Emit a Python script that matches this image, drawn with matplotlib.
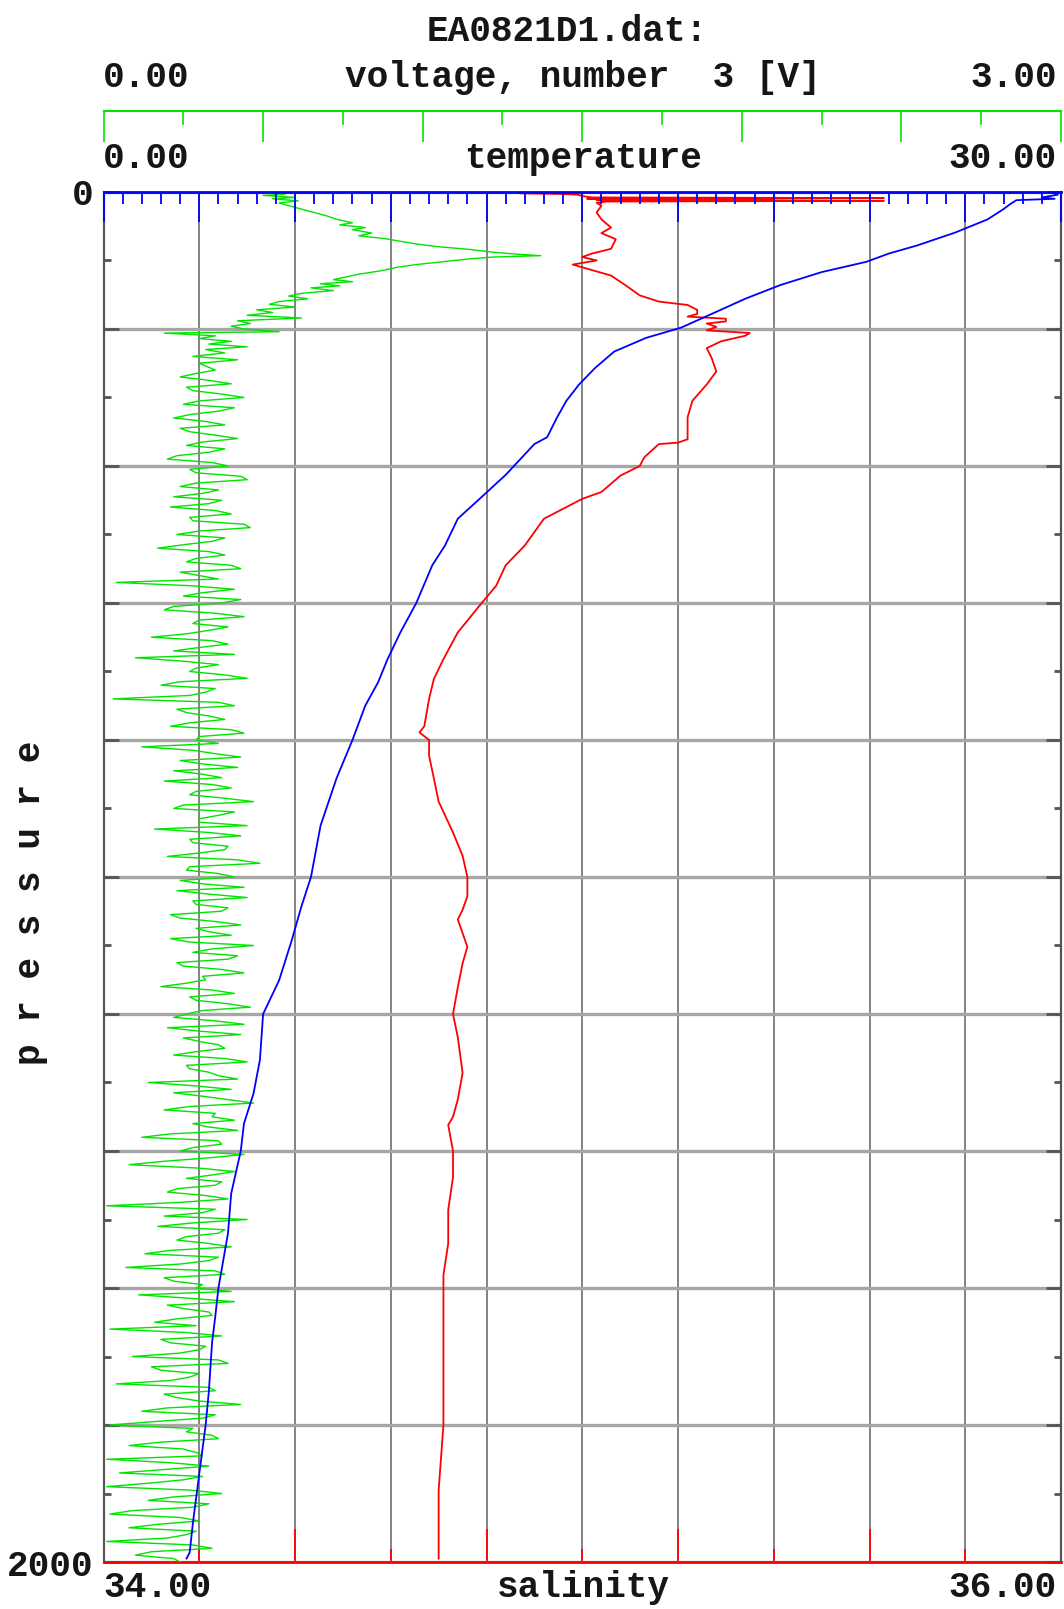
import matplotlib
matplotlib.use('Agg')
import matplotlib.pyplot as plt
from matplotlib.ticker import MultipleLocator, FixedLocator

plt.rcParams['font.family'] = ['Liberation Mono', 'DejaVu Sans Mono']
plt.rcParams['font.weight'] = 'bold'

# salinity profile (red)
sal_p = [2, 3, 4, 6, 8, 9, 10, 11, 12, 13, 14, 16, 20, 30, 40, 52, 60, 69, 83, 90, 95,
         100, 106, 110, 122, 136, 151, 160, 165, 172, 178, 182, 185, 189, 192, 197, 202,
         206, 210, 218, 228, 242, 262, 281, 305, 329, 361, 366, 368, 387, 400, 414, 438,
         448, 477, 516, 545, 575, 600, 643, 682, 711, 740, 780, 789, 800, 823, 856, 890,
         935, 969, 1000, 1028, 1048, 1062, 1102, 1126, 1161, 1200, 1234, 1286, 1325, 1350,
         1362, 1400, 1438, 1486, 1535, 1581, 1642, 1703, 1720, 1800, 1895, 1995]
sal = [34.87, 34.96, 34.99, 35.00, 35.02, 35.63, 35.01, 35.40, 35.03, 35.63, 35.05,
       35.03, 35.04, 35.03, 35.04, 35.06, 35.04, 35.07, 35.06, 35.02, 35.00, 35.03, 34.98,
       35.00, 35.06, 35.09, 35.12, 35.16, 35.22, 35.24, 35.24, 35.22, 35.30, 35.30, 35.26,
       35.28, 35.26, 35.35, 35.34, 35.29, 35.26, 35.27, 35.28, 35.26, 35.23, 35.22, 35.22,
       35.20, 35.16, 35.13, 35.12, 35.08, 35.04, 35.00, 34.92, 34.88, 34.84, 34.82, 34.79,
       34.74, 34.71, 34.69, 34.68, 34.67, 34.66, 34.68, 34.68, 34.69, 34.70, 34.73, 34.75,
       34.76, 34.76, 34.75, 34.74, 34.76, 34.75, 34.74, 34.73, 34.74, 34.75, 34.74, 34.73,
       34.72, 34.73, 34.73, 34.72, 34.72, 34.71, 34.71, 34.71, 34.71, 34.71, 34.70, 34.70]

# temperature profile (blue)
temp_p = [0, 4, 8, 10, 12, 18, 25, 40, 59, 78, 90, 102, 117, 136, 156, 175, 198, 213, 233,
          257, 281, 305, 330, 358, 368, 398, 413, 443, 477, 516, 545, 600, 643, 682, 716,
          750, 800, 856, 925, 1000, 1043, 1092, 1151, 1200, 1267, 1316, 1360, 1400, 1462,
          1520, 1600, 1642, 1680, 1751, 1800, 1871, 1943, 1986, 1995]
temp = [29.7, 29.9, 29.4, 29.8, 28.6, 28.4, 28.2, 27.7, 26.7, 25.5, 24.6, 23.9, 22.5, 21.2,
        20.1, 19.2, 18.1, 17.0, 16.0, 15.4, 14.9, 14.5, 14.2, 13.9, 13.5, 12.9, 12.6, 11.9,
        11.1, 10.7, 10.3, 9.8, 9.3, 8.9, 8.6, 8.2, 7.8, 7.3, 6.8, 6.5, 6.2, 5.9, 5.5, 5.0,
        4.9, 4.7, 4.4, 4.3, 4.0, 3.9, 3.6, 3.5, 3.4, 3.3, 3.2, 3.0, 2.8, 2.7, 2.6]

# voltage number 3 (green), upper part
volt_p_top = [0, 3, 5, 8, 10, 13, 16, 20, 25, 30, 35, 40, 45, 48, 52, 55, 60, 64, 68, 72,
              76, 80, 84, 88, 91, 93, 95, 98, 102, 106, 110, 115, 120, 125, 128, 131, 134,
              137, 140, 144, 148, 152, 156, 160, 164, 168, 172, 176, 180, 184, 188, 192,
              196, 200, 204, 206, 210, 214, 218, 222, 226, 230, 235, 240, 245, 250]
volt_top = [0.52, 0.57, 0.50, 0.60, 0.53, 0.61, 0.55, 0.58, 0.62, 0.66, 0.70, 0.73, 0.78,
            0.74, 0.82, 0.78, 0.84, 0.80, 0.88, 0.93, 0.98, 1.05, 1.15, 1.22, 1.30, 1.37,
            1.22, 1.14, 1.06, 0.98, 0.92, 0.87, 0.80, 0.75, 0.72, 0.78, 0.68, 0.74, 0.65,
            0.72, 0.62, 0.58, 0.64, 0.55, 0.52, 0.60, 0.48, 0.53, 0.45, 0.62, 0.42, 0.46,
            0.40, 0.44, 0.55, 0.19, 0.35, 0.30, 0.40, 0.33, 0.45, 0.32, 0.38, 0.28, 0.42,
            0.30]

# deeper part, samples at 260, 270, ... 2000
volt_p_deep_a = list(range(260, 2001, 10))
volt_deep_a = [
    0.35, 0.24, 0.40, 0.28, 0.44, 0.25, 0.36, 0.22, 0.38, 0.27,
    0.42, 0.26, 0.33, 0.20, 0.39, 0.29, 0.45, 0.24, 0.31, 0.37,
    0.21, 0.40, 0.28, 0.46, 0.23, 0.34, 0.17, 0.38, 0.26, 0.43,
    0.30, 0.04, 0.41, 0.25, 0.37, 0.19, 0.44, 0.28, 0.33, 0.15,
    0.39, 0.22, 0.10, 0.36, 0.27, 0.45, 0.18, 0.32, 0.03, 0.41,
    0.26, 0.38, 0.21, 0.44, 0.29, 0.12, 0.35, 0.24, 0.42, 0.31,
    0.19, 0.40, 0.27, 0.47, 0.22, 0.36, 0.30, 0.16, 0.43, 0.28,
    0.38, 0.20, 0.49, 0.26, 0.41, 0.31, 0.23, 0.45, 0.29, 0.37,
    0.24, 0.43, 0.33, 0.21, 0.47, 0.28, 0.39, 0.25, 0.44, 0.32,
    0.18, 0.41, 0.29, 0.46, 0.26, 0.35, 0.20, 0.43, 0.30, 0.38,
    0.22, 0.45, 0.27, 0.36, 0.14, 0.40, 0.31, 0.47, 0.19, 0.34,
    0.28, 0.42, 0.12, 0.37, 0.24, 0.33, 0.08, 0.41, 0.26, 0.35,
    0.20, 0.39, 0.01, 0.31, 0.45, 0.17, 0.36, 0.23, 0.40, 0.13,
    0.33, 0.07, 0.38, 0.22, 0.29, 0.11, 0.41, 0.25, 0.34, 0.16,
    0.02, 0.37, 0.21, 0.30, 0.09, 0.39, 0.18, 0.27, 0.04, 0.35,
    0.23, 0.43, 0.12, 0.31, 0.02, 0.26, 0.36, 0.08, 0.29, 0.01,
    0.33, 0.05, 0.25, 0.01, 0.37, 0.14, 0.28, 0.02, 0.30, 0.08,
    0.26, 0.01, 0.34, 0.10, 0.24]

# in-between samples at 265, 275, ... 1995
volt_p_deep_b = list(range(265, 2000, 10))
volt_deep_b = [
    0.29, 0.33, 0.26, 0.37, 0.30, 0.41, 0.27, 0.32, 0.24, 0.35,
    0.31, 0.38, 0.23, 0.34, 0.27, 0.43, 0.29, 0.36, 0.22, 0.33,
    0.35, 0.27, 0.44, 0.30, 0.38, 0.25, 0.33, 0.29, 0.40, 0.24,
    0.36, 0.28, 0.31, 0.43, 0.22, 0.35, 0.30, 0.39, 0.26, 0.34,
    0.30, 0.41, 0.25, 0.29, 0.38, 0.24, 0.35, 0.27, 0.36, 0.23,
    0.33, 0.27, 0.40, 0.30, 0.36, 0.28, 0.43, 0.31, 0.22, 0.37,
    0.34, 0.29, 0.38, 0.25, 0.41, 0.30, 0.45, 0.33, 0.27, 0.39,
    0.30, 0.42, 0.27, 0.36, 0.24, 0.44, 0.33, 0.28, 0.39, 0.21,
    0.35, 0.29, 0.40, 0.27, 0.34, 0.42, 0.23, 0.37, 0.31, 0.26,
    0.34, 0.27, 0.39, 0.31, 0.22, 0.44, 0.30, 0.25, 0.36, 0.29,
    0.38, 0.26, 0.33, 0.42, 0.29, 0.22, 0.39, 0.27, 0.35, 0.41,
    0.33, 0.21, 0.36, 0.28, 0.44, 0.19, 0.30, 0.34, 0.37, 0.23,
    0.32, 0.24, 0.35, 0.19, 0.28, 0.38, 0.26, 0.33, 0.21, 0.36,
    0.24, 0.35, 0.19, 0.31, 0.40, 0.27, 0.20, 0.33, 0.23, 0.29,
    0.26, 0.18, 0.32, 0.24, 0.36, 0.15, 0.30, 0.21, 0.33, 0.19,
    0.30, 0.20, 0.35, 0.16, 0.28, 0.34, 0.18, 0.25, 0.31, 0.21,
    0.19, 0.31, 0.14, 0.27, 0.22, 0.33, 0.09, 0.24, 0.17, 0.29,
    0.20, 0.28, 0.15, 0.22]

deep = sorted(list(zip(volt_p_deep_a, volt_deep_a)) + list(zip(volt_p_deep_b, volt_deep_b)))
volt_p = volt_p_top + [d[0] for d in deep]
volt = volt_top + [d[1] for d in deep]

TXT = '#161616'
GREEN = '#00e400'

fig = plt.figure(figsize=(10.64, 16.09), dpi=100)
ax = fig.add_axes([0.0973, 0.0292, 0.8999, 0.8515])
ax_v = ax.twiny()
ax_t = ax.twiny()

# salinity / pressure axes
ax.set_xlim(34, 36)
ax.set_ylim(2000, 0)
ax.xaxis.set_major_locator(FixedLocator([34.0, 34.4, 34.8, 35.2, 35.6, 36.0]))
ax.xaxis.set_minor_locator(FixedLocator([34.2, 34.6, 35.0, 35.4, 35.8]))
ax.tick_params(axis='x', which='major', direction='in', length=24, width=1.3,
               color='red', labelbottom=False, top=False)
ax.tick_params(axis='x', which='minor', direction='in', length=9.5, width=1.3,
               color='red', top=False)
p_ticks = [0, 200, 400, 600, 800, 1000, 1200, 1400, 1600, 1800, 2000]
ax.yaxis.set_major_locator(FixedLocator(p_ticks))
ax.yaxis.set_minor_locator(FixedLocator([100, 300, 500, 700, 900, 1100, 1300, 1500, 1700, 1900]))
ax.set_yticklabels(['0'] + [''] * 9 + ['2000'])
ax.tick_params(axis='y', which='major', direction='in', length=11, width=2,
               color='#555555', left=True, right=True, pad=7,
               labelsize=26, labelcolor=TXT)
ax.tick_params(axis='y', which='minor', direction='in', length=5, width=2,
               color='#555555', left=True, right=True)
ax.grid(which='both', axis='x', color='#7a7a7a', linewidth=1.3)
ax.grid(which='major', axis='y', color='#a6a6a6', linewidth=2.4)
ax.set_axisbelow(True)
ax.spines['top'].set_visible(False)
ax.spines['bottom'].set_color('red')
ax.spines['bottom'].set_linewidth(2)
for s in ['left', 'right']:
    ax.spines[s].set_color('#555555')
    ax.spines[s].set_linewidth(1.6)
ax.plot(sal, sal_p, color='red', lw=1.3)

# voltage axis, drawn above the temperature axis
ax_v.set_xlim(0, 3)
ax_v.xaxis.set_major_locator(MultipleLocator(0.5))
ax_v.xaxis.set_minor_locator(MultipleLocator(0.25))
ax_v.tick_params(axis='x', which='major', direction='in', length=22.3, width=1.2,
                 color=GREEN, labeltop=False, top=True, bottom=False)
ax_v.tick_params(axis='x', which='minor', direction='in', length=10, width=1.2,
                 color=GREEN, top=True, bottom=False)
for s in ['left', 'right', 'bottom']:
    ax_v.spines[s].set_visible(False)
ax_v.spines['top'].set_position(('outward', 58.3))
ax_v.spines['top'].set_color(GREEN)
ax_v.spines['top'].set_linewidth(1.5)
ax_v.plot(volt, volt_p, color=GREEN, lw=1.0)

# temperature axis
ax_t.set_xlim(0, 30)
ax_t.xaxis.set_major_locator(MultipleLocator(3))
ax_t.xaxis.set_minor_locator(MultipleLocator(0.6))
ax_t.tick_params(axis='x', which='major', direction='in', length=21.6, width=1.3,
                 color='blue', labeltop=False, top=True, bottom=False)
ax_t.tick_params(axis='x', which='minor', direction='in', length=8.6, width=1.3,
                 color='blue', top=True, bottom=False)
for s in ['left', 'right', 'bottom']:
    ax_t.spines[s].set_visible(False)
ax_t.spines['top'].set_color('blue')
ax_t.spines['top'].set_linewidth(2)
ax_t.plot(temp, temp_p, color='blue', lw=1.3)

fs = 26
fig.text(0.533, 0.9807, 'EA0821D1.dat:', ha='center', va='center', fontsize=fs, color=TXT)
fig.text(0.0968, 0.9521, '0.00', ha='left', va='center', fontsize=fs, color=TXT)
fig.text(0.548, 0.9521, 'voltage, number  3 [V]', ha='center', va='center', fontsize=fs, color=TXT)
fig.text(0.9934, 0.9521, '3.00', ha='right', va='center', fontsize=fs, color=TXT)
fig.text(0.0968, 0.9012, '0.00', ha='left', va='center', fontsize=fs, color=TXT)
fig.text(0.548, 0.9012, 'temperature', ha='center', va='center', fontsize=fs, color=TXT)
fig.text(0.9934, 0.9012, '30.00', ha='right', va='center', fontsize=fs, color=TXT)
fig.text(0.0968, 0.0131, '34.00', ha='left', va='center', fontsize=fs, color=TXT)
fig.text(0.548, 0.0131, 'salinity', ha='center', va='center', fontsize=fs, color=TXT)
fig.text(0.9934, 0.0131, '36.00', ha='right', va='center', fontsize=fs, color=TXT)
fig.text(0.029, 0.4388, 'p r e s s u r e', ha='center', va='center', rotation=90,
         fontsize=fs, color=TXT)

fig.savefig('out.png', dpi=100)
